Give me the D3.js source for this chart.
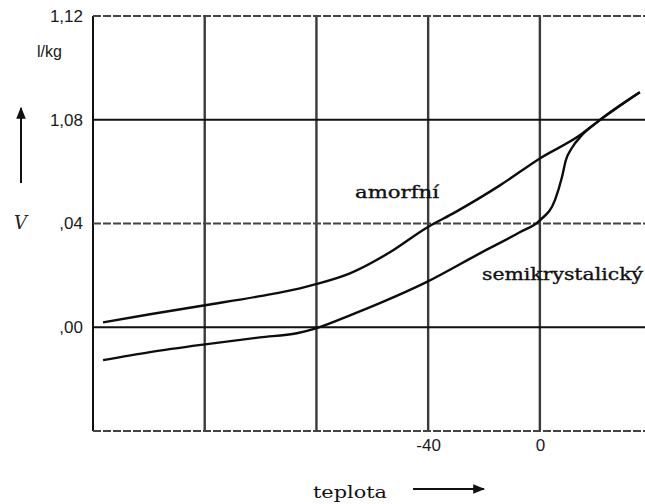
<!DOCTYPE html>
<html>
<head>
<meta charset="utf-8">
<script src="https://cdn.jsdelivr.net/npm/d3@7"></script>
<style>
  html, body { margin: 0; padding: 0; background: #fff; }
  svg { display: block; }
  .tick-label { font-family: "Liberation Sans", Arial, sans-serif; font-size: 17px; fill: #1a1a1a; }
  .curve-label { font-family: "DejaVu Serif", serif; font-size: 17px; fill: #111; stroke: #111; stroke-width: 0.35px; }
  .axis-title { font-family: "DejaVu Serif", serif; font-size: 17px; fill: #111; }
</style>
</head>
<body>
<svg id="chart" width="645" height="504"></svg>
<script>
// Specific volume (l/kg) against temperature for amorphous and semicrystalline polymer
const amorfniT = [-156.4, -139.6, -119.9, -100.2, -85.9, -80.2, -68.0, -53.7, -40.8, -30.4, -14.3, 0.0, 14.3, 20.4, 35.8];
const amorfniV = [1.0019, 1.0050, 1.0085, 1.0120, 1.0150, 1.0166, 1.0208, 1.0289, 1.0382, 1.0443, 1.0547, 1.0651, 1.0740, 1.0790, 1.0906];

const semiT = [-156.4, -139.6, -119.9, -100.2, -87.0, -80.2, -68.0, -57.3, -40.8, -21.5, -7.2, 0.0, 5.4, 7.9, 9.3, 11.4, 15.0, 20.4, 35.8];
const semiV = [0.9873, 0.9904, 0.9934, 0.9961, 0.9977, 0.9996, 1.0046, 1.0093, 1.0173, 1.0285, 1.0366, 1.0412, 1.0490, 1.0578, 1.0644, 1.0690, 1.0740, 1.0790, 1.0906];

const xGrid = [-160, -120, -80, -40, 0];
const xTicks = [-40, 0];
const xTickLabels = ["-40", "0"];
const ySolid = [1.08, 1.00];
const yDashed = [1.12, 1.04, 0.96];
const yTicks = [1.12, 1.08, 1.04, 1.00];
const yTickLabels = ["1,12", "1,08", ",04", ",00"];

(function () {
  const svg = d3.select("#chart");
  const plotLeft = 93, plotRight = 646, plotTop = 16, plotBottom = 431;

  const x = d3.scaleLinear().domain([-160, 38]).range([plotLeft, plotRight]);
  const y = d3.scaleLinear().domain([0.96, 1.12]).range([plotBottom, plotTop]);

  // vertical grid lines
  svg.append("g").selectAll("line").data(xGrid).join("line")
    .attr("x1", d => x(d)).attr("x2", d => x(d))
    .attr("y1", y(1.12)).attr("y2", y(0.96))
    .attr("stroke", d => d === -160 ? "#111" : "#3a3a3a")
    .attr("stroke-width", d => d === -160 ? 2 : 2.4);

  // horizontal grid lines
  svg.append("g").selectAll("line").data(ySolid).join("line")
    .attr("x1", plotLeft).attr("x2", plotRight)
    .attr("y1", d => y(d)).attr("y2", d => y(d))
    .attr("stroke", "#111").attr("stroke-width", 2);

  svg.append("g").selectAll("line").data(yDashed).join("line")
    .attr("x1", plotLeft).attr("x2", plotRight)
    .attr("y1", d => y(d)).attr("y2", d => y(d))
    .attr("stroke", "#444").attr("stroke-width", 2.2)
    .attr("stroke-dasharray", "8,2");

  // tick labels
  const yAxis = d3.axisLeft(y).tickValues(yTicks).tickSize(0).tickPadding(10)
    .tickFormat((d, i) => yTickLabels[i]);
  const gy = svg.append("g").attr("transform", `translate(${plotLeft},0)`).call(yAxis);
  gy.select(".domain").remove();
  gy.attr("font-size", null).attr("font-family", null);
  gy.selectAll("text").attr("class", "tick-label").attr("fill", null);

  const xAxis = d3.axisBottom(x).tickValues(xTicks).tickSize(0).tickPadding(8)
    .tickFormat((d, i) => xTickLabels[i]);
  const gx = svg.append("g").attr("transform", `translate(0,${plotBottom})`).call(xAxis);
  gx.select(".domain").remove();
  gx.attr("font-size", null).attr("font-family", null);
  gx.selectAll("text").attr("class", "tick-label").attr("fill", null);

  // unit label
  svg.append("text").attr("class", "tick-label")
    .attr("x", 37).attr("y", 57).style("font-size", "16px").text("l/kg");

  // curves
  const line = d3.line().x(d => x(d[0])).y(d => y(d[1])).curve(d3.curveMonotoneX);
  const amorfni = amorfniT.map((t, i) => [t, amorfniV[i]]);
  const semi = semiT.map((t, i) => [t, semiV[i]]);

  svg.append("path").datum(amorfni).attr("d", line)
    .attr("fill", "none").attr("stroke", "#0d0d0d").attr("stroke-width", 2.4);
  svg.append("path").datum(semi).attr("d", line)
    .attr("fill", "none").attr("stroke", "#0d0d0d").attr("stroke-width", 2.4);

  // curve labels
  svg.append("text").attr("class", "curve-label")
    .attr("x", 355).attr("y", 198).attr("textLength", 84).attr("lengthAdjust", "spacingAndGlyphs")
    .text("amorfní");
  svg.append("text").attr("class", "curve-label")
    .attr("x", 482).attr("y", 280).attr("textLength", 161).attr("lengthAdjust", "spacingAndGlyphs")
    .text("semikrystalický");

  // axis titles with arrows
  const defs = svg.append("defs");
  defs.append("marker").attr("id", "arrowhead")
    .attr("viewBox", "0 0 10 10").attr("refX", 9).attr("refY", 5)
    .attr("markerWidth", 6).attr("markerHeight", 6).attr("orient", "auto")
    .append("path").attr("d", "M0,1 L10,5 L0,9 Z").attr("fill", "#111");

  svg.append("line").attr("x1", 21).attr("x2", 21).attr("y1", 183).attr("y2", 108)
    .attr("stroke", "#111").attr("stroke-width", 2).attr("marker-end", "url(#arrowhead)");
  svg.append("text").attr("x", 14).attr("y", 229)
    .attr("font-family", "DejaVu Serif, serif").attr("font-style", "italic").attr("font-size", 18)
    .attr("fill", "#222").text("V");

  svg.append("text").attr("class", "axis-title")
    .attr("x", 313).attr("y", 498).attr("textLength", 74).attr("lengthAdjust", "spacingAndGlyphs")
    .text("teplota");
  svg.append("line").attr("x1", 413).attr("x2", 484).attr("y1", 489).attr("y2", 489)
    .attr("stroke", "#111").attr("stroke-width", 2).attr("marker-end", "url(#arrowhead)");
})();
</script>
</body>
</html>
